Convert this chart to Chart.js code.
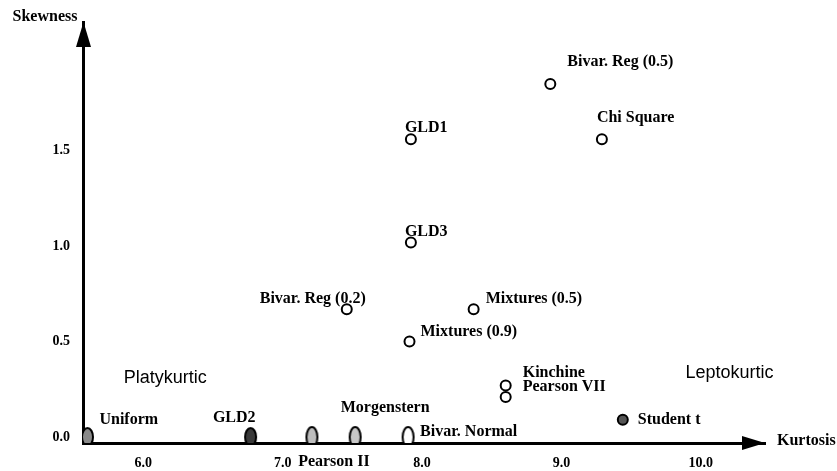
<!DOCTYPE html>
<html>
<head>
<meta charset="utf-8">
<script src="https://cdn.jsdelivr.net/npm/chart.js@4.4.1/dist/chart.umd.min.js"></script>
<style>
  html, body { margin: 0; padding: 0; background: #fff; }
  #wrap { width: 837px; height: 471px; position: relative; }
</style>
</head>
<body>
<div id="wrap"><canvas id="c" width="837" height="471"></canvas></div>
<script>
// ---------------- data ----------------
const categories = ['Uniform', 'GLD2', 'Pearson II', 'Morgenstern', 'Bivar. Normal', 'Student t',
  'Kinchine', 'Pearson VII', 'Mixtures (0.9)', 'Bivar. Reg (0.2)', 'Mixtures (0.5)', 'GLD3', 'GLD1',
  'Chi Square', 'Bivar. Reg (0.5)'];
const kurtosis = [5.60, 6.77, 7.21, 7.52, 7.90, 9.44, 8.60, 8.60, 7.91, 7.46, 8.37, 7.92, 7.92, 9.29, 8.92];
const skewness = [0.00, 0.00, 0.00, 0.00, 0.00, 0.09, 0.27, 0.21, 0.50, 0.67, 0.67, 1.02, 1.56, 1.56, 1.85];
const xTickValues = [6, 7, 8, 9, 10];
const yTickValues = [0, 0.5, 1.0, 1.5];
const regionLabels = ['Platykurtic', 'Leptokurtic'];
const regionKurtosis = [5.86, 9.89];
const regionSkewness = [0.31, 0.335];
const xTitle = 'Kurtosis';
const yTitle = 'Skewness';

// ---------------- styles ----------------
const SERIF = '"Liberation Serif", "Times New Roman", serif';
const SANS = '"Liberation Sans", Arial, sans-serif';
const markerStyle = [
  ['ellipse', '#8a8a8a', 11, 18], ['ellipse', '#3a3a3a', 11, 18], ['ellipse', '#bdbdbd', 11, 20],
  ['ellipse', '#c8c8c8', 11, 20], ['ellipse', '#ffffff', 11, 20], ['circle', '#555555'],
  ['circle', '#ffffff'], ['circle', '#ffffff'], ['circle', '#ffffff'], ['circle', '#ffffff'],
  ['circle', '#ffffff'], ['circle', '#ffffff'], ['circle', '#ffffff'], ['circle', '#ffffff'], ['circle', '#ffffff']
];
// label offsets in px relative to point: [dx, dy, align]
const labelOffset = [
  [12, -17, 'left'], [5, -19, 'right'], [22, 25, 'center'], [30, -29, 'center'], [12, -5, 'left'],
  [15, 0, 'left'], [17, -13, 'left'], [17, -10, 'left'], [11, -10, 'left'], [19, -10, 'right'],
  [12, -10, 'left'], [-6, -11, 'left'], [-6, -11, 'left'], [-5, -21, 'left'], [17, -22, 'left']
];

function ellipseCanvas(fill, w, h) {
  const cv = document.createElement('canvas');
  cv.width = w + 4; cv.height = h + 4;
  const g = cv.getContext('2d');
  g.beginPath();
  g.ellipse(cv.width / 2, cv.height / 2, w / 2, h / 2, 0, 0, Math.PI * 2);
  g.fillStyle = fill; g.fill();
  g.lineWidth = 2; g.strokeStyle = '#000'; g.stroke();
  return cv;
}

const pointStyles = markerStyle.map(m => m[0] === 'ellipse' ? ellipseCanvas(m[1], m[2], m[3]) : 'circle');
const pointFills = markerStyle.map(m => m[1]);

const points = kurtosis.map((k, i) => ({ x: k, y: skewness[i] }));

const annotPlugin = {
  id: 'annot',
  afterDatasetsDraw(chart) {
    const { ctx, chartArea: a, scales: { x, y } } = chart;
    const meta = chart.getDatasetMeta(0);
    ctx.save();
    // arrowheads
    ctx.fillStyle = '#000';
    ctx.beginPath();
    ctx.moveTo(a.left + 0.5, a.top);
    ctx.lineTo(a.left - 7, a.top + 25);
    ctx.lineTo(a.left + 8, a.top + 25);
    ctx.closePath(); ctx.fill();
    ctx.beginPath();
    ctx.moveTo(a.right, a.bottom);
    ctx.lineTo(a.right - 23, a.bottom - 7);
    ctx.lineTo(a.right - 23, a.bottom + 7);
    ctx.closePath(); ctx.fill();
    // axis titles
    ctx.font = 'bold 16px ' + SERIF;
    ctx.textBaseline = 'middle';
    ctx.textAlign = 'center';
    ctx.fillText(yTitle, a.left - 38, a.top - 5);
    ctx.textAlign = 'left';
    ctx.fillText(xTitle, a.right + 12, a.bottom - 2);
    // point labels
    ctx.font = 'bold 16px ' + SERIF;
    meta.data.forEach((el, i) => {
      const o = labelOffset[i];
      ctx.textAlign = o[2];
      ctx.fillText(categories[i], el.x + o[0], el.y + o[1]);
    });
    // region labels
    ctx.font = '18px ' + SANS;
    ctx.textAlign = 'left';
    regionLabels.forEach((t, i) => {
      ctx.fillText(t, x.getPixelForValue(regionKurtosis[i]), y.getPixelForValue(regionSkewness[i]));
    });
    ctx.restore();
  }
};

new Chart(document.getElementById('c'), {
  type: 'scatter',
  data: {
    datasets: [{
      data: points,
      pointStyle: pointStyles,
      pointRadius: 5,
      pointBorderWidth: 2,
      pointBorderColor: '#000',
      pointBackgroundColor: pointFills,
      pointHoverRadius: 5
    }]
  },
  options: {
    responsive: false,
    animation: false,
    devicePixelRatio: 1,
    layout: { padding: { top: 22, right: 72, left: 0, bottom: 0 } },
    plugins: { legend: { display: false }, tooltip: { enabled: false } },
    scales: {
      x: {
        type: 'linear',
        min: 5.568, max: 10.46,
        grid: { display: false, drawTicks: false },
        border: { display: true, color: '#000', width: 3 },
        afterBuildTicks: s => { s.ticks = xTickValues.map(v => ({ value: v })); },
        afterFit: s => { s.height = 28; },
        ticks: {
          color: '#000', padding: 12,
          font: { family: SERIF, size: 14, weight: 'bold' },
          callback: v => Number(v).toFixed(1)
        }
      },
      y: {
        type: 'linear',
        min: -0.0314, max: 2.175,
        grid: { display: false, drawTicks: false },
        border: { display: true, color: '#000', width: 3 },
        afterBuildTicks: s => { s.ticks = yTickValues.map(v => ({ value: v })); },
        afterFit: s => { s.width = 83; },
        ticks: {
          color: '#000', padding: 13,
          font: { family: SERIF, size: 14, weight: 'bold' },
          callback: v => Number(v).toFixed(1)
        }
      }
    }
  },
  plugins: [annotPlugin]
});
</script>
</body>
</html>
